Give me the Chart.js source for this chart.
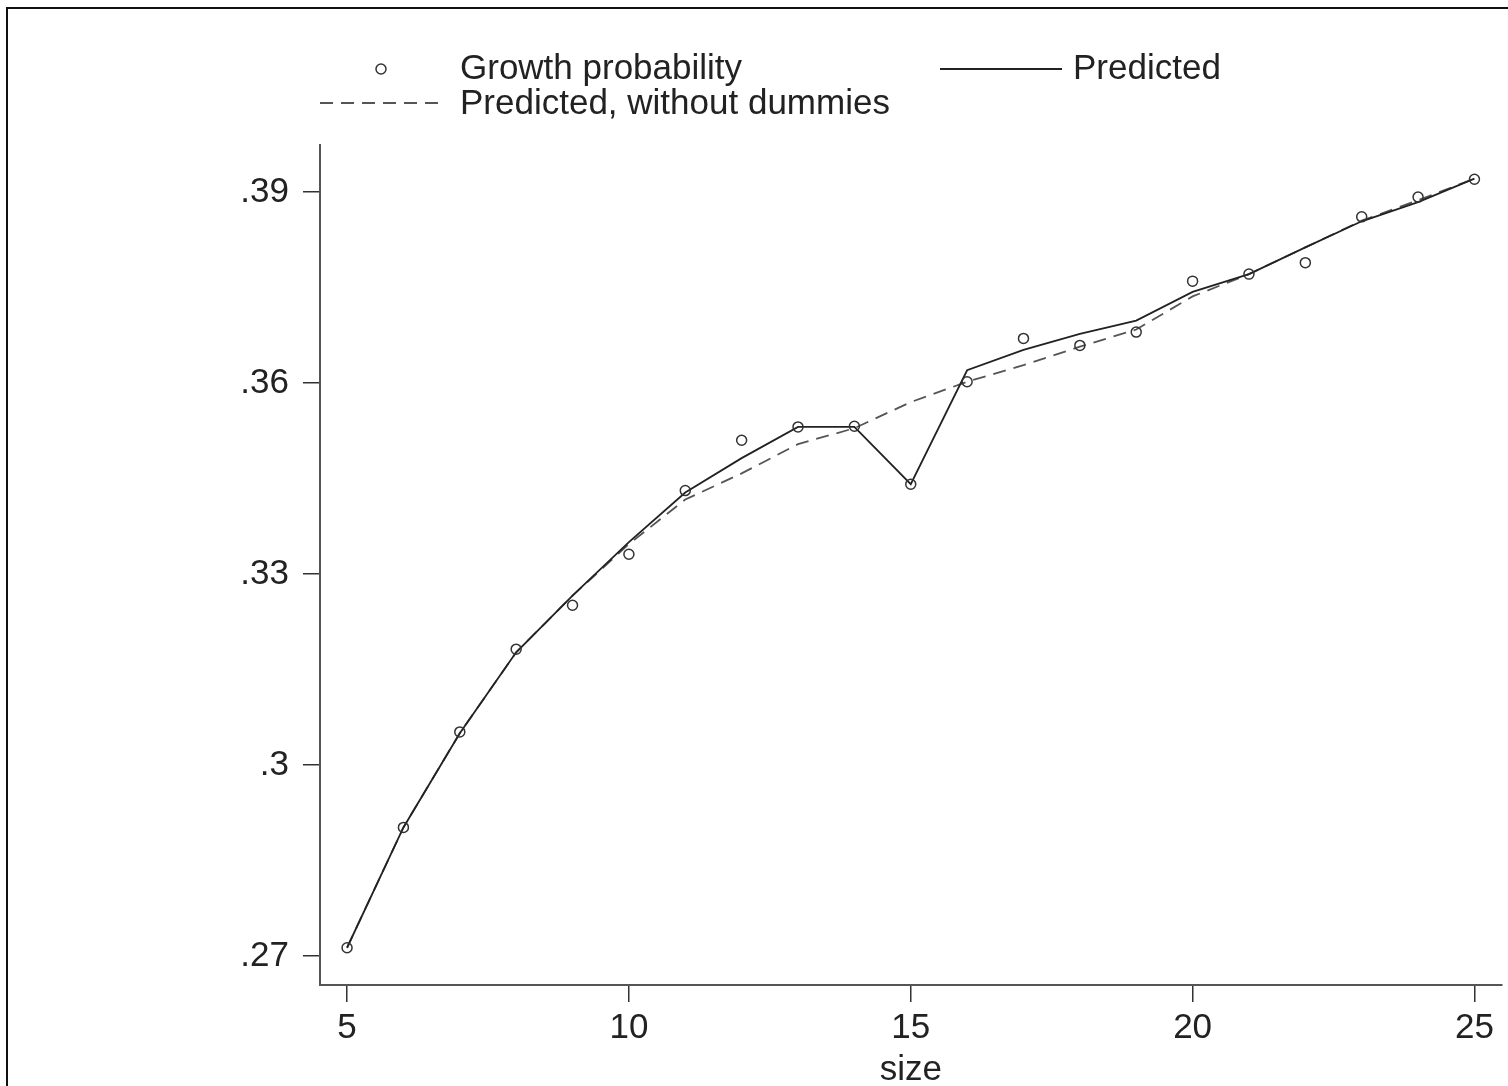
<!DOCTYPE html>
<html>
<head>
<meta charset="utf-8">
<script src="https://cdn.jsdelivr.net/npm/chart.js@4.4.1/dist/chart.umd.min.js"></script>
<style>
  html, body { margin: 0; padding: 0; background: #fff; overflow: hidden; }
  #wrap { position: relative; width: 1508px; height: 1086px; }
  #frame { position: absolute; left: 6px; top: 7px; width: 1600px; height: 1200px;
           border-left: 2px solid #111; border-top: 2px solid #111; }
  canvas { position: absolute; left: 0; top: 0; }
  #legend svg { position: absolute; left: 0; top: 0; }
  .lg { position: absolute; font: 35px "Liberation Sans", Arial, sans-serif; color: #222;
        line-height: 42px; white-space: nowrap; }
</style>
</head>
<body>
<div id="wrap">
  <div id="frame"></div>
  <canvas id="chart" width="1508" height="1086"></canvas>
  <div id="legend">
    <svg width="1508" height="140">
      <circle cx="381" cy="69" r="5" fill="none" stroke="#333" stroke-width="1.5"/>
      <line x1="940" y1="69" x2="1062" y2="69" stroke="#222" stroke-width="1.8"/>
      <line x1="320" y1="103" x2="445" y2="103" stroke="#555" stroke-width="1.8" stroke-dasharray="13,8"/>
    </svg>
    <div class="lg" style="left:460px; top:46px;">Growth probability</div>
    <div class="lg" style="left:1073px; top:46px;">Predicted</div>
    <div class="lg" style="left:460px; top:81px;">Predicted, without dummies</div>
  </div>
</div>
<script>
// data
const sizes = [5, 6, 7, 8, 9, 10, 11, 12, 13, 14, 15, 16, 17, 18, 19, 20, 21, 22, 23, 24, 25];
const growthProb = [0.2713, 0.2902, 0.3052, 0.3182, 0.3251, 0.3331, 0.3431, 0.3510, 0.3531, 0.3532, 0.3441,
                    0.3602, 0.3670, 0.3659, 0.3680, 0.3760, 0.3771, 0.3789, 0.3861, 0.3892, 0.3920];
const predicted = [0.2713, 0.2902, 0.3050, 0.3177, 0.3266, 0.3350, 0.3428, 0.3482, 0.3531, 0.3531, 0.3441,
                   0.3620, 0.3652, 0.3677, 0.3698, 0.3743, 0.3771, 0.3813, 0.3854, 0.3884, 0.3921];
const withoutDummies = [0.2713, 0.2902, 0.3050, 0.3177, 0.3266, 0.3347, 0.3417, 0.3458, 0.3504, 0.3529, 0.3570,
                        0.3602, 0.3628, 0.3657, 0.3684, 0.3736, 0.3771, 0.3813, 0.3855, 0.3887, 0.3921];
const xTicks = [5, 10, 15, 20, 25];
const yTicks = [0.27, 0.30, 0.33, 0.36, 0.39];

const pts = arr => sizes.map((s, i) => ({ x: s, y: arr[i] }));
const font = { family: '"Liberation Sans", Arial, sans-serif', size: 35 };

new Chart(document.getElementById('chart').getContext('2d'), {
  type: 'line',
  data: {
    datasets: [
      {
        label: 'Growth probability',
        data: pts(growthProb),
        showLine: false,
        pointStyle: 'circle',
        pointRadius: 5,
        pointBorderWidth: 1.5,
        pointBorderColor: '#333',
        pointBackgroundColor: 'rgba(0,0,0,0)'
      },
      {
        label: 'Predicted',
        data: pts(predicted),
        borderColor: '#222',
        borderWidth: 1.8,
        pointRadius: 0,
        tension: 0
      },
      {
        label: 'Predicted, without dummies',
        data: pts(withoutDummies),
        borderColor: '#555',
        borderWidth: 1.8,
        borderDash: [13, 8],
        pointRadius: 0,
        tension: 0
      }
    ]
  },
  options: {
    responsive: false,
    animation: false,
    layout: { padding: { left: 0, top: 145, right: 5, bottom: 0 } },
    plugins: { legend: { display: false }, tooltip: { enabled: false } },
    scales: {
      x: {
        type: 'linear',
        min: 4.52, max: 25.48,
        afterBuildTicks: s => { s.ticks = xTicks.map(v => ({ value: v })); },
        afterFit: s => { s.height = 101; },
        grid: { drawOnChartArea: false, drawTicks: true, tickLength: 17, color: '#333', lineWidth: 1.5 },
        border: { display: true, color: '#555', width: 2 },
        ticks: { color: '#222', font: font, padding: 5, maxRotation: 0 },
        title: { display: true, text: 'size', color: '#222', font: font, padding: { top: 0, bottom: -5 } }
      },
      y: {
        min: 0.26545, max: 0.39738,
        afterBuildTicks: s => { s.ticks = yTicks.map(v => ({ value: v })); },
        afterFit: s => { s.width = 320; },
        grid: { drawOnChartArea: false, drawTicks: true, tickLength: 17, color: '#333', lineWidth: 1.5 },
        border: { display: true, color: '#555', width: 2 },
        ticks: {
          color: '#222', font: font, padding: 14,
          callback: v => Number(v.toFixed(2)).toString().replace(/^0/, '')
        }
      }
    }
  }
});
</script>
</body>
</html>
